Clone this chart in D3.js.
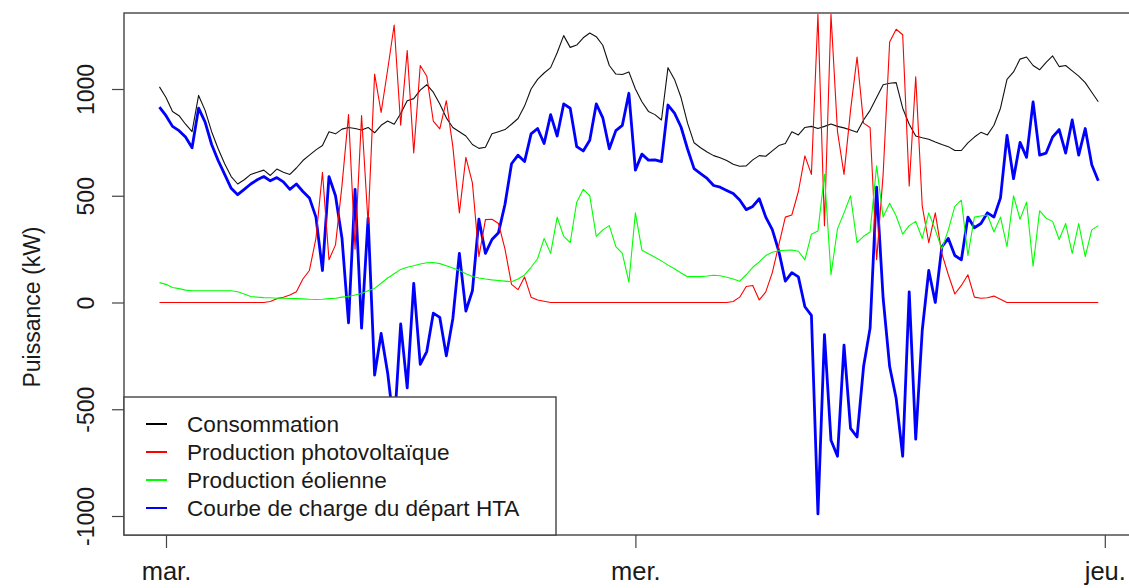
<!DOCTYPE html>
<html><head><meta charset="utf-8">
<script src="https://cdn.jsdelivr.net/npm/d3@7"></script>
<style>
body{margin:0;background:#fff}
svg{display:block}
text{font-family:"Liberation Sans", Arial, sans-serif;fill:#1a1a1a}
</style>
</head><body>
<svg id="c" width="1129" height="588"></svg>
<script>
// ---- data (20-minute steps, first point at -20 min before Tuesday 00:00) ----
const stepMinutes = 20;
const startHour = -1/3;
const dayTicks = [0, 24, 48];
const dayLabels = ["mar.", "mer.", "jeu."];
const yTicks = [-1000, -500, 0, 500, 1000];
const seriesNames = ["Consommation", "Production photovoltaïque", "Production éolienne", "Courbe de charge du départ HTA"];

const consommation = [
 1010, 960, 895, 875, 835, 800, 970, 900, 800, 720,
 650, 590, 555, 575, 600, 610, 620, 595, 625, 610,
 600, 630, 665, 690, 715, 735, 800, 790, 812, 820,
 815, 808, 820, 795, 830, 850, 835, 885, 945, 955,
 995, 1020, 985, 930, 865, 820, 800, 780, 740, 722,
 727, 790, 800, 810, 835, 862, 920, 1000, 1045, 1075,
 1100, 1170, 1250, 1195, 1206, 1240, 1262, 1245, 1205, 1110,
 1070, 1068, 1080, 1000, 940, 895, 880, 855, 1100, 1045,
 960, 840, 748, 725, 705, 688, 678, 665, 648, 638,
 640, 668, 688, 685, 710, 735, 745, 800, 785, 820,
 825, 815, 825, 836, 825, 818, 808, 797, 855, 900,
 960, 1020, 1027, 1030, 910, 835, 780, 772, 765, 752,
 740, 730, 712, 712, 748, 775, 797, 785, 830, 910,
 1045, 1080, 1140, 1150, 1110, 1090, 1125, 1155, 1105, 1110,
 1085, 1060, 1030, 985, 940
];
const photovoltaique = [
 0, 0, 0, 0, 0, 0, 0, 0, 0, 0,
 0, 0, 0, 0, 0, 0, 0, 5, 18, 25,
 35, 50, 110, 150, 300, 610, 200, 270, 550, 880,
 250, 876, 370, 1070, 890, 1090, 1300, 830, 1180, 700,
 1110, 1060, 850, 813, 945, 730, 420, 680, 560, 215,
 388, 390, 370, 250, 85, 60, 120, 25, 12, 6,
 0, 0, 0, 0, 0, 0, 0, 0, 0, 0,
 0, 0, 0, 0, 0, 0, 0, 0, 0, 0,
 0, 0, 0, 0, 0, 0, 0, 0, 5, 25,
 75, 80, 12, 50, 140, 270, 400, 410, 520, 687,
 600, 1350, 360, 1350, 800, 600, 900, 1150, 840, 820,
 200, 600, 1220, 1280, 1254, 546, 1057, 451, 280, 420,
 230, 130, 40, 80, 130, 25, 20, 22, 30, 15,
 0, 0, 0, 0, 0, 0, 0, 0, 0, 0,
 0, 0, 0, 0, 0
];
const eolienne = [
 93, 85, 70, 65, 58, 55, 55, 55, 55, 55,
 55, 55, 50, 40, 28, 25, 23, 22, 20, 20,
 19, 18, 17, 15, 14, 15, 18, 20, 25, 28,
 35, 42, 55, 66, 90, 115, 135, 155, 165, 172,
 180, 186, 187, 182, 172, 162, 150, 135, 122, 115,
 110, 106, 103, 100, 97, 110, 129, 165, 205, 300,
 230, 400, 310, 280, 470, 530, 500, 310, 340, 360,
 262, 230, 95, 420, 245, 228, 212, 195, 175, 158,
 138, 121, 121, 121, 124, 128, 125, 118, 110, 100,
 130, 165, 190, 220, 235, 242, 245, 246, 240, 200,
 320, 335, 600, 130, 345, 420, 500, 280, 310, 330,
 640, 400, 465, 405, 320, 360, 380, 300, 420, 340,
 250, 340, 450, 480, 220, 400, 405, 410, 330, 400,
 262, 500, 390, 470, 170, 430, 395, 380, 295, 370,
 230, 370, 215, 340, 360
];
const departHTA = [
 915, 875, 825, 805, 775, 725, 910, 845, 740, 665,
 600, 535, 505, 530, 555, 575, 590, 570, 585, 565,
 530, 555, 520, 490, 400, 150, 590, 500, 300, -95,
 530, -120, 395, -340, -145, -330, -590, -100, -400, 90,
 -290, -230, -50, -70, -250, -75, 230, -40, 55, 390,
 230, 295, 327, 460, 650, 690, 660, 790, 815, 745,
 880, 780, 930, 910, 730, 710, 760, 930, 865, 720,
 805, 830, 980, 620, 695, 667, 668, 660, 925, 887,
 822, 719, 627, 604, 581, 548, 540, 525, 510, 480,
 435, 450, 486, 400, 341, 240, 100, 140, 120, -20,
 -60, -990, -150, -645, -720, -200, -590, -630, -300, -120,
 540, 20, -300, -450, -720, 50, -640, -130, 150, 0,
 260, 300, 220, 200, 400, 350, 370, 420, 400, 490,
 783, 580, 750, 680, 940, 690, 700, 775, 810, 700,
 855, 690, 815, 645, 570
];

const hours = d3.range(consommation.length).map(i => startHour + i * stepMinutes / 60);

// ---- layout ----
const svg = d3.select("#c");
const pLeft = 124, pRight = 1140, pTop = 13, pBottom = 535;
const x = d3.scaleLinear().domain([-2.147, 49.8]).range([pLeft, pRight]);
const y = d3.scaleLinear().domain([-1089, 1356]).range([pBottom, pTop]);

svg.append("defs").append("clipPath").attr("id", "clip")
  .append("rect").attr("x", pLeft).attr("y", pTop).attr("width", pRight - pLeft).attr("height", pBottom - pTop);

const series = [
  {name: seriesNames[3], values: departHTA, color: "#0000FF", w: 2.8},
  {name: seriesNames[0], values: consommation, color: "#111111", w: 1.1},
  {name: seriesNames[1], values: photovoltaique, color: "#FF0000", w: 1.1},
  {name: seriesNames[2], values: eolienne, color: "#00FF00", w: 1.1}
];

const line = d3.line().x((d, i) => x(hours[i])).y(d => y(d));
const g = svg.append("g").attr("clip-path", "url(#clip)");
series.forEach(s => {
  g.append("path").datum(s.values)
    .attr("fill", "none").attr("stroke", s.color).attr("stroke-width", s.w)
    .attr("stroke-linejoin", "round").attr("d", line);
});

// ---- axes ----
const axisColor = "#444";
const yAxis = svg.append("g").attr("transform", `translate(${pLeft},0)`)
  .call(d3.axisLeft(y).tickValues(yTicks).tickSize(12).tickFormat(d => String(d)));
yAxis.select(".domain").remove();
yAxis.selectAll("line").attr("stroke", axisColor).attr("stroke-width", 1.2);
yAxis.selectAll("text")
  .attr("x", 0).attr("y", -30).attr("dy", 0)
  .attr("transform", "rotate(-90)")
  .attr("text-anchor", "middle")
  .style("font-size", "23px").style("fill", "#1a1a1a");

const xAxis = svg.append("g").attr("transform", `translate(0,${pBottom})`)
  .call(d3.axisBottom(x).tickValues(dayTicks).tickSize(13).tickFormat((d, i) => dayLabels[i]));
xAxis.select(".domain").remove();
xAxis.selectAll("line").attr("stroke", axisColor).attr("stroke-width", 1.2);
xAxis.selectAll("text").attr("y", 45).attr("dy", 0)
  .style("font-size", "25.5px").style("fill", "#1a1a1a");

svg.append("rect").attr("x", pLeft).attr("y", pTop).attr("width", pRight - pLeft).attr("height", pBottom - pTop)
  .attr("fill", "none").attr("stroke", "#444").attr("stroke-width", 1.4);

svg.append("text").attr("transform", "translate(40,307) rotate(-90)")
  .attr("text-anchor", "middle").style("font-size", "23px").text("Puissance (kW)");

// ---- legend ----
const legendOrder = [
  {name: seriesNames[0], color: "#000000"},
  {name: seriesNames[1], color: "#FF0000"},
  {name: seriesNames[2], color: "#00FF00"},
  {name: seriesNames[3], color: "#0000FF"}
];
const lg = svg.append("g");
lg.append("rect").attr("x", pLeft).attr("y", 397).attr("width", 432).attr("height", pBottom - 397)
  .attr("fill", "#fff").attr("stroke", "#444").attr("stroke-width", 1.4);
legendOrder.forEach((s, i) => {
  const yy = 424 + i * 28;
  lg.append("line").attr("x1", 146).attr("x2", 167).attr("y1", yy).attr("y2", yy)
    .attr("stroke", s.color).attr("stroke-width", 2);
  lg.append("text").attr("x", 187).attr("y", yy).attr("dy", "0.35em")
    .style("font-size", "22.6px").text(s.name);
});
</script>
</body></html>
